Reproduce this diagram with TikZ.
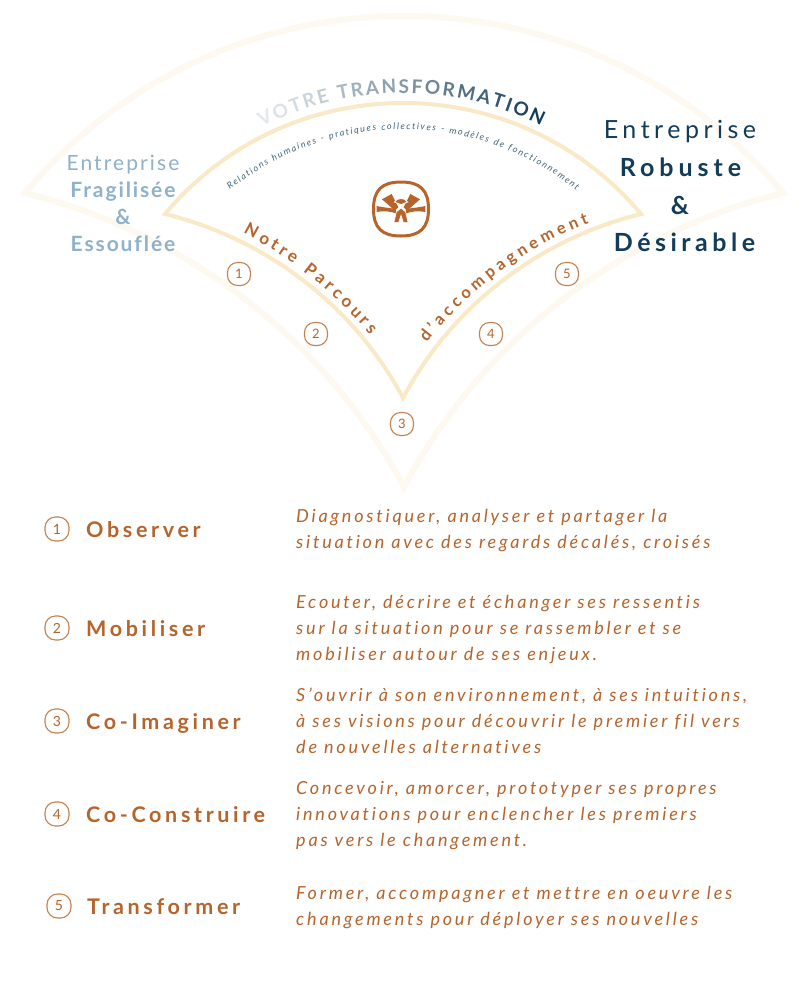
\documentclass[tikz,border=0pt]{standalone}
\usepackage{fontspec}
\setmainfont{Lato}[Ligatures={NoCommon,TeX}]
\usetikzlibrary{decorations.text}
\definecolor{brun}{HTML}{B5642C}
\definecolor{brunclair}{HTML}{C4824F}
\definecolor{innerfan}{HTML}{F9E9C6}
\definecolor{outerfan}{HTML}{FEF9F0}
\definecolor{pale}{HTML}{8FB1C9}
\definecolor{navy}{HTML}{123C5A}
\newcommand\lsp[2]{\fontsize{#1}{#1}\selectfont\addfontfeature{LetterSpace=#2}}
\newcommand\desc{\fontsize{18}{26}\selectfont\itshape\addfontfeature{LetterSpace=15.5}}
\newcommand\ltr[2]{|\lsp{19}{0}\bfseries\color{navy!#1!white}|#2||}
\tikzset{
  num/.style={draw=brunclair,line width=1.1pt,rounded corners=10pt,minimum size=23pt,inner sep=0pt,text=brun,font=\fontsize{13}{13}\selectfont},
  numbig/.style={num,minimum size=24pt,rounded corners=10.5pt,font=\fontsize{14}{14}\selectfont},
  stepname/.style={anchor=base west,inner sep=0pt,text=brun,font=\lsp{21.5}{17}\bfseries},
  stepdesc/.style={anchor=north west,inner sep=0pt,align=left,text=brun,font=\desc},
  leftline/.style={anchor=base,inner sep=0pt,text=pale},
  rightline/.style={anchor=base,inner sep=0pt,text=navy},
}
\begin{document}
\begin{tikzpicture}[x=1pt,y=-1pt]
\useasboundingbox[fill=white] (0,0) rectangle (800,991);
% fans
\draw[outerfan,line width=6pt,line join=miter,miter limit=20]
  (25,193) .. controls (222,-43) and (586,-43) .. (783,193)
  .. controls (621,233) and (482,340) .. (404,487)
  .. controls (326,340) and (187,233) .. cycle;
\draw[innerfan,line width=4pt,line join=miter,miter limit=20]
  (165,214) .. controls (289,66) and (517,66) .. (641,214)
  .. controls (539,239) and (452,306) .. (403,398)
  .. controls (354,306) and (267,239) .. cycle;
% curved text
\path[decorate,decoration={text along path,text align=fit to path,text={%
\ltr{12}{V}\ltr{15}{O}\ltr{18}{T}\ltr{22}{R}\ltr{26}{E}\ltr{30}{ }\ltr{36}{T}\ltr{40}{R}\ltr{44}{A}\ltr{48}{N}\ltr{52}{S}\ltr{57}{F}\ltr{62}{O}\ltr{67}{R}\ltr{74}{M}\ltr{80}{A}\ltr{86}{T}\ltr{90}{I}\ltr{95}{O}\ltr{100}{N}}}]
  (262,127) .. controls (350,82.5) and (453,81.8) .. (541,125.5);
\path[decorate,decoration={text along path,text align=fit to path,text={|\lsp{9}{0}\itshape\color{navy!80!white}|Relations humaines - pratiques collectives - modèles de fonctionnement||}}]
  (230,190) .. controls (332,109) and (474,109) .. (576,190);
\path[decorate,decoration={text along path,text align=fit to path,text={|\lsp{17}{0}\bfseries\color{brun}|Notre Parcours||}}]
  (243,233) .. controls (292,258.7) and (334.3,292.7) .. (370,335);
\path[decorate,decoration={text along path,text align=fit to path,text={|\lsp{16.5}{0}\bfseries\color{brun}|d'accompagnement||}}]
  (427,343) .. controls (470,288) and (524,248) .. (589,223);
% logo
\draw[brun,line width=3pt]
  (373.5,209) .. controls (373.5,190) and (382,182) .. (401,182)
  .. controls (420,182) and (428.5,190) .. (428.5,209)
  .. controls (428.5,228) and (420,236) .. (401,236)
  .. controls (382,236) and (373.5,228) .. cycle;
\begin{scope}[shift={(401,60)},x=0.3333pt,y=-0.3333pt]
  \foreach \s in {1,-1}{
    \begin{scope}[xscale=\s]
      \fill[brun] (-57,418) -- (-28,402) -- (-8,442) -- (-18,452) -- cycle;
      \fill[brun] (-73,438) .. controls (-55,442) and (-38,444) .. (-18,446) -- (-10,462) .. controls (-30,454) and (-50,452) .. (-73,456) -- cycle;
    \end{scope}
  }
  \fill[brun,draw=white,line width=0.6pt] (-21,487) -- (-14,456) -- (0,444) -- (14,456) -- (21,487) -- (7,487) -- (0,466) -- (-7,487) -- cycle;
  \fill[brun,draw=white,line width=0.8pt] (-20,426) .. controls (-10,412) and (10,412) .. (20,426) -- (0,434) -- cycle;
\end{scope}
% side labels
\node[leftline,font=\lsp{21}{10}]  (ef1) at (123,170) {Entreprise};
\node[leftline,font=\lsp{21}{9}\bfseries] (ef2) at (123,197) {Fragilisée};
\node[leftline,font=\lsp{21}{9}\bfseries] (ef3) at (123,224) {\&};
\node[leftline,font=\lsp{21}{9}\bfseries] (ef4) at (123,251) {Essouflée};
\node[rightline,font=\lsp{25}{18}] (er1) at (680,138) {Entreprise};
\node[rightline,font=\lsp{25}{20}\bfseries] (er2) at (680.5,176) {Robuste};
\node[rightline,font=\lsp{25}{18}\bfseries] (er3) at (680,214) {\&};
\node[rightline,font=\lsp{25}{18}\bfseries] (er4) at (684.5,251) {Désirable};
% numbers on fan
\node[num] (f1) at (239,274) {1};
\node[num] (f2) at (316,334) {2};
\node[num] (f3) at (402,424) {3};
\node[num] (f4) at (491,334) {4};
\node[num] (f5) at (567,274) {5};
% list
\node[numbig] (l1) at (57,529) {1};
\node[stepname] (s1) at (86,537) {Observer};
\node[stepdesc] (d1) at (296,503.8) {\strut Diagnostiquer, analyser et partager la\\situation avec des regards décalés, croisés};
\node[numbig] (l2) at (57,628) {2};
\node[stepname] (s2) at (86,636) {Mobiliser};
\node[stepdesc] (d2) at (296,589.8) {\strut Ecouter, décrire et échanger ses ressentis\\sur la situation pour se rassembler et se\\mobiliser autour de ses enjeux.};
\node[numbig] (l3) at (57,721) {3};
\node[stepname] (s3) at (86,729) {Co-Imaginer};
\node[stepdesc] (d3) at (296,682.8) {\strut S'ouvrir à son environnement, à ses intuitions,\\à ses visions pour découvrir le premier fil vers\\de nouvelles alternatives};
\node[numbig] (l4) at (57,814) {4};
\node[stepname] (s4) at (86,822) {Co-Construire};
\node[stepdesc] (d4) at (296,775.8) {\strut Concevoir, amorcer, prototyper ses propres\\innovations pour enclencher les premiers\\pas vers le changement.};
\node[numbig] (l5) at (59,906) {5};
\node[stepname] (s5) at (87,914) {Transformer};
\node[stepdesc] (d5) at (296,880.8) {\strut Former, accompagner et mettre en oeuvre les\\changements pour déployer ses nouvelles};
\end{tikzpicture}
\end{document}
